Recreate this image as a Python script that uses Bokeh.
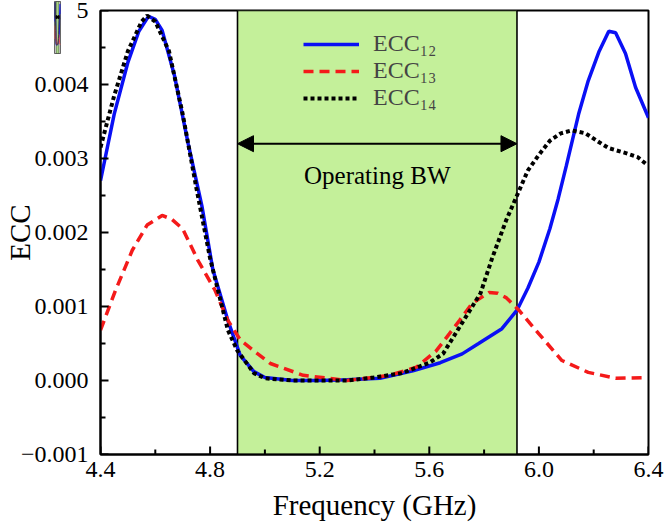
import math
from bokeh.plotting import figure
from bokeh.models import (BoxAnnotation, Arrow, NormalHead, Label, Legend, LegendItem,
                          FixedTicker, Range1d)
from bokeh.layouts import column
from bokeh.embed import file_html
from bokeh.resources import INLINE

# ---------------- data ----------------
f12 = [4.40, 4.45, 4.50, 4.54, 4.575, 4.60, 4.625, 4.67, 4.72, 4.77, 4.81, 4.865, 4.91, 4.96,
       5.00, 5.10, 5.20, 5.30, 5.42, 5.54, 5.64, 5.72, 5.78, 5.865, 5.92, 5.96, 6.00, 6.04,
       6.07, 6.10, 6.145, 6.18, 6.22, 6.255, 6.28, 6.316, 6.353, 6.40]
ecc12 = [0.00270, 0.00360, 0.00430, 0.00472, 0.00492, 0.00488, 0.00473, 0.00412, 0.00320,
         0.00236, 0.00150, 0.00081, 0.00034, 0.00012, 0.00004, 0.00000, 0.00000, 0.00001,
         0.00003, 0.00013, 0.00024, 0.00036, 0.00050, 0.00070, 0.00095, 0.00125, 0.00160,
         0.00205, 0.00245, 0.00290, 0.00360, 0.00405, 0.00445, 0.00472, 0.00470, 0.00442,
         0.00396, 0.00355]

f13 = [4.40, 4.455, 4.516, 4.57, 4.625, 4.66, 4.70, 4.756, 4.818, 4.865, 4.91, 4.96, 5.02,
       5.14, 5.30, 5.455, 5.553, 5.625, 5.673, 5.71, 5.756, 5.818, 5.85, 5.88, 5.927, 6.00,
       6.084, 6.18, 6.28, 6.39]
ecc13 = [0.00068, 0.00122, 0.00176, 0.00210, 0.00223, 0.00218, 0.00205, 0.00162, 0.00122,
         0.00081, 0.00055, 0.00040, 0.00023, 0.00007, 0.00000, 0.00007, 0.00018, 0.00040,
         0.00063, 0.00081, 0.00104, 0.00119, 0.00118, 0.00112, 0.00095, 0.00063, 0.00027,
         0.00011, 0.00003, 0.00004]

f14 = [4.40, 4.45, 4.50, 4.55, 4.57, 4.60, 4.65, 4.70, 4.75, 4.80, 4.865, 4.90, 4.96, 5.00,
       5.10, 5.30, 5.40, 5.50, 5.60, 5.65, 5.71, 5.787, 5.83, 5.88, 5.92, 5.96, 6.00, 6.04,
       6.08, 6.12, 6.17, 6.22, 6.255, 6.32, 6.36, 6.39]
ecc14 = [0.00315, 0.00385, 0.00445, 0.00485, 0.00493, 0.00485, 0.00445, 0.00360, 0.00260,
         0.00165, 0.00068, 0.00040, 0.00010, 0.00003, 0.00000, 0.00000, 0.00004, 0.00010,
         0.00024, 0.00036, 0.00072, 0.00118, 0.00166, 0.00216, 0.00250, 0.00284, 0.00305,
         0.00324, 0.00334, 0.00338, 0.00334, 0.00322, 0.00314, 0.00307, 0.00302, 0.00293]

x_ticks = [4.4, 4.8, 5.2, 5.6, 6.0, 6.4]
x_tick_labels = ["4.4", "4.8", "5.2", "5.6", "6.0", "6.4"]
x_minor = [4.6, 5.0, 5.4, 5.8, 6.2]
y_ticks = [-0.001, 0.000, 0.001, 0.002, 0.003, 0.004, 0.005]
# the top label is mostly hidden behind the pasted thumbnail in the original: only "5" shows
y_tick_labels = ["\u22120.001", "0.000", "0.001", "0.002", "0.003", "0.004", "5"]
y_minor = [-0.0005, 0.0005, 0.0015, 0.0025, 0.0035, 0.0045]

x_lo, x_hi = 4.4, 6.4
y_lo, y_hi = -0.001, 0.005
band_start, band_end = 4.9, 5.92
arrow_y = 0.0032
band_label = "Operating BW"
band_label_y = 0.00277
legend_labels = ["ECC\u2081\u2082", "ECC\u2081\u2083", "ECC\u2081\u2084"]
x_title = "Frequency (GHz)"
y_title = "ECC"

FONT = "Liberation Serif"
BLUE, RED, BLACK = "#0a10f5", "#f41a1a", "#000000"
GREEN = "#c4f09a"

# ---------------- main figure ----------------
p = figure(width=665, height=526, output_backend="svg", toolbar_location=None,
           x_range=Range1d(x_lo, x_hi), y_range=Range1d(y_lo, y_hi),
           min_border_left=100, min_border_right=17, min_border_top=10, min_border_bottom=72)
p.grid.visible = False
p.outline_line_color = "black"
p.outline_line_width = 2
p.outline_line_alpha = 1
p.background_fill_color = "white"

band = BoxAnnotation(left=band_start, right=band_end, fill_color=GREEN, fill_alpha=1.0,
                     line_color="black", line_alpha=1.0, line_width=1.6, level="underlay")
p.add_layout(band)

r12 = p.line(f12, ecc12, line_color=BLUE, line_width=3.5)
r13 = p.line(f13, ecc13, line_color=RED, line_width=3.5, line_dash="10 6")
r14 = p.line(f14, ecc14, line_color=BLACK, line_width=4, line_dash="4 3")

# inward tick marks drawn as short segments from the axis edges
tick_px_major, tick_px_minor = 8, 5
px_per_x = 548 / (x_hi - x_lo)
px_per_y = 444 / (y_hi - y_lo)
p.segment(x0=x_ticks, y0=[y_lo] * len(x_ticks), x1=x_ticks,
          y1=[y_lo + tick_px_major / px_per_y] * len(x_ticks), line_color="black", line_width=2)
p.segment(x0=x_minor, y0=[y_lo] * len(x_minor), x1=x_minor,
          y1=[y_lo + tick_px_minor / px_per_y] * len(x_minor), line_color="black", line_width=2)
p.segment(x0=[x_lo] * len(y_ticks), y0=y_ticks, x1=[x_lo + tick_px_major / px_per_x] * len(y_ticks),
          y1=y_ticks, line_color="black", line_width=2)
p.segment(x0=[x_lo] * len(y_minor), y0=y_minor, x1=[x_lo + tick_px_minor / px_per_x] * len(y_minor),
          y1=y_minor, line_color="black", line_width=2)

arrow = Arrow(start=NormalHead(size=16, fill_color="black", line_color="black"),
              end=NormalHead(size=16, fill_color="black", line_color="black"),
              x_start=band_start, x_end=band_end, y_start=arrow_y, y_end=arrow_y,
              line_width=2)
p.add_layout(arrow)

p.add_layout(Label(x=(band_start + band_end) / 2, y=band_label_y, text=band_label,
                   text_align="center", text_baseline="middle", text_font=FONT,
                   text_font_size="25px", text_color="black"))

legend = Legend(items=[LegendItem(label=legend_labels[0], renderers=[r12]),
                       LegendItem(label=legend_labels[1], renderers=[r13]),
                       LegendItem(label=legend_labels[2], renderers=[r14])],
                location=(199, 339), background_fill_alpha=0, border_line_alpha=0,
                label_text_font=FONT, label_text_font_size="24px", glyph_width=56,
                glyph_height=20, spacing=0, label_standoff=14, padding=4, margin=0,
                label_height=20)
p.add_layout(legend, "center")

for ax in (p.xaxis[0], p.yaxis[0]):
    ax.major_tick_in = 0
    ax.major_tick_out = 0
    ax.minor_tick_in = 0
    ax.minor_tick_out = 0
    ax.axis_line_width = 2
    ax.axis_line_color = "black"
    ax.major_label_text_font = FONT
    ax.major_label_text_font_size = "24px"
    ax.major_label_text_color = "black"
    ax.axis_label_text_font = FONT
    ax.axis_label_text_font_style = "normal"
    ax.axis_label_text_font_size = "29px"
    ax.axis_label_text_color = "black"

p.xaxis.ticker = FixedTicker(ticks=x_ticks, minor_ticks=x_minor)
p.xaxis.major_label_overrides = dict(zip(x_ticks, x_tick_labels))
p.yaxis.ticker = FixedTicker(ticks=y_ticks, minor_ticks=y_minor)
p.yaxis.major_label_overrides = dict(zip(y_ticks, y_tick_labels))
p.xaxis.axis_label = x_title
p.yaxis.axis_label = y_title
p.xaxis.major_label_standoff = 7
p.yaxis.major_label_standoff = 12
p.xaxis.axis_label_standoff = 9
p.yaxis.axis_label_standoff = -18

# ---------------- inset thumbnail (pasted copy of the chart in the top-left corner) ----------------
# earlier runs showed ~56px of unexplained left border in this small figure, so it is made
# wider and shifted left so that its frame lands in the top-left corner
q = figure(width=123, height=62, output_backend="svg", toolbar_location=None,
           x_range=Range1d(x_lo, x_hi), y_range=Range1d(y_lo, y_hi),
           x_axis_location=None, y_axis_location=None,
           min_border_left=10, min_border_right=1, min_border_top=1, min_border_bottom=9,
           styles={"position": "absolute", "left": "-46px", "top": "0px", "z-index": "5"})
q.grid.visible = False
q.outline_line_color = "black"
q.outline_line_width = 0.6
q.outline_line_alpha = 1
q.add_layout(BoxAnnotation(left=band_start, right=band_end, fill_color="#a8d488",
                           fill_alpha=1.0, line_color="black", line_alpha=1.0,
                           line_width=0.5, level="underlay"))
q.line(f12, ecc12, line_color=BLUE, line_width=1.2)
q.line(f13, ecc13, line_color="#f05050", line_width=1.0)
q.line(f14, ecc14, line_color="#404040", line_width=1.0)
q.add_layout(Arrow(start=NormalHead(size=3, fill_color="black"),
                   end=NormalHead(size=3, fill_color="black"), x_start=band_start,
                   x_end=band_end, y_start=arrow_y, y_end=arrow_y, line_width=0.6))

layout = column(p, q, styles={"position": "relative"})
open("out.html", "w").write(file_html(layout, INLINE))
